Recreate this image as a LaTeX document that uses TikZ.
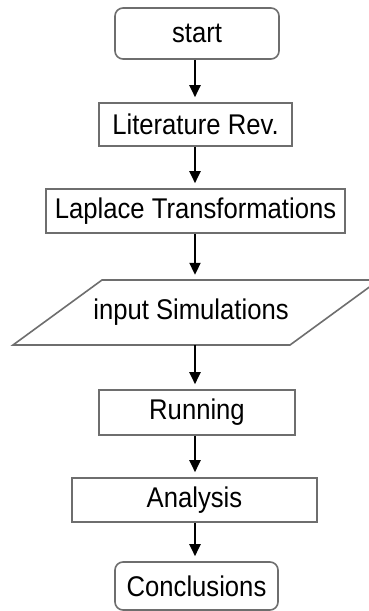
\documentclass[tikz,border=0pt]{standalone}
\usepackage{fontspec}
\setmainfont[FakeStretch=0.9]{Liberation Sans}
\usetikzlibrary{arrows.meta}
\definecolor{edgegray}{HTML}{6E6E6E}
\begin{document}
\begin{tikzpicture}[x=1pt,y=-1pt,
  box/.style={draw=edgegray,line width=1.6pt,fill=white,inner sep=0pt,
    font=\fontsize{28.5}{32}\selectfont},
  rbox/.style={box,rounded corners=8pt},
  flow/.style={line width=2pt,-{Triangle[width=11pt,length=12pt]},shorten >=5pt}]
\useasboundingbox (0,0) rectangle (368,611);
\fill[white] (0,0) rectangle (368,611);
\node[rbox,minimum width=164pt,minimum height=51pt] (start) at (197,33.5) {start};
\node[box,minimum width=193pt,minimum height=43pt] (lit) at (195.5,124.5) {Literature Rev.};
\node[box,minimum width=299pt,minimum height=44pt] (lap) at (195.5,211) {Laplace Transformations};
\draw[draw=edgegray,line width=1.6pt,fill=white] (102,280) -- (379,280) -- (290,345) -- (13,345) -- cycle;
\node[inner sep=0pt,minimum width=200pt,minimum height=65pt,font=\fontsize{28.5}{32}\selectfont] (par) at (191,312.5) {input Simulations};
\node[box,minimum width=196pt,minimum height=45pt] (run) at (197,412.5) {Running};
\node[box,minimum width=245pt,minimum height=44pt] (ana) at (194.5,500) {Analysis};
\node[rbox,minimum width=163pt,minimum height=48pt] (con) at (196.5,586) {Conclusions};
\draw[flow] (start.south -| 195,0) -- (lit.north -| 195,0);
\draw[flow] (lit.south -| 195,0) -- (lap.north -| 195,0);
\draw[flow] (lap.south -| 195,0) -- (par.north -| 195,0);
\draw[flow] (par.south -| 195,0) -- (run.north -| 195,0);
\draw[flow] (run.south -| 195,0) -- (ana.north -| 195,0);
\draw[flow] (ana.south -| 195,0) -- (con.north -| 195,0);
\end{tikzpicture}
\end{document}
